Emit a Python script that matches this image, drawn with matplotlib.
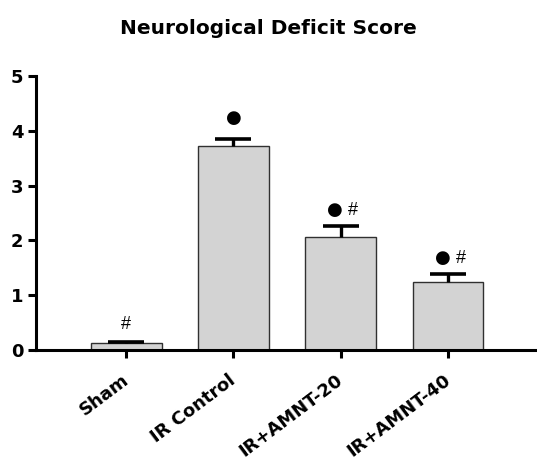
import matplotlib.pyplot as plt
import matplotlib.transforms as mtransforms

plt.rcParams['font.family'] = ['DejaVu Sans']

# --- Data ---
groups = ["Sham", "IR Control", "IR+AMNT-20", "IR+AMNT-40"]
means = [0.12, 3.73, 2.07, 1.24]
sems = [0.02, 0.13, 0.20, 0.14]
dot_marks = [False, True, True, True]
hash_marks = [True, False, True, True]

# --- Plot ---
fig = plt.figure(figsize=(5.37, 4.62), dpi=100)
ax = fig.add_axes([0.067, 0.2424, 0.933, 0.593])

x = list(range(len(groups)))
tops = [m + s for m, s in zip(means, sems)]
ax.bar(x, means, width=0.66, color="#d3d3d3", edgecolor="#303030", linewidth=1.0, zorder=2)
# upper-only error bars: stem + cap
ax.vlines(x, means, tops, colors="black", linewidth=2.4, zorder=3)
ax.plot(x, tops, linestyle="none", marker="_", markersize=26, markeredgewidth=2.6,
        color="black", zorder=3)

for i in x:
    top = tops[i]
    if dot_marks[i] and hash_marks[i]:
        ax.annotate("●", (i, top), xytext=(-4, 5), textcoords="offset points",
                    ha="center", va="bottom", fontsize=13)
        ax.annotate("#", (i, top), xytext=(9, 5), textcoords="offset points",
                    ha="center", va="bottom", fontsize=13, family="Liberation Sans")
    elif dot_marks[i]:
        ax.annotate("●", (i, top), xytext=(0, 8), textcoords="offset points",
                    ha="center", va="bottom", fontsize=13)
    elif hash_marks[i]:
        ax.annotate("#", (i, top), xytext=(0, 7), textcoords="offset points",
                    ha="center", va="bottom", fontsize=13, family="Liberation Sans")

ax.set_xlim(-0.84, 3.83)
ax.set_ylim(0, 5)
ax.set_yticks([0, 1, 2, 3, 4, 5])
ax.set_xticks(x)

for side in ["top", "right"]:
    ax.spines[side].set_visible(False)
for side in ["left", "bottom"]:
    ax.spines[side].set_linewidth(2.2)
ax.tick_params(axis="both", width=2.2, length=6, direction="out", pad=3)
ax.tick_params(axis="x", pad=9)
ax.spines["bottom"].set_zorder(4)

ax.set_xticklabels(groups, rotation=37, ha="right", rotation_mode="anchor",
                   fontsize=13, fontweight="bold")
shift = mtransforms.ScaledTranslation(-5 / 100, 0, fig.dpi_scale_trans)
for lbl in ax.get_xticklabels():
    lbl.set_transform(lbl.get_transform() + shift)
for lbl in ax.get_yticklabels():
    lbl.set_fontsize(13)
    lbl.set_fontweight("bold")

fig.suptitle("Neurological Deficit Score", x=0.5, y=0.958, fontsize=14.5, fontweight="bold")

fig.savefig("out.png", dpi=100)
